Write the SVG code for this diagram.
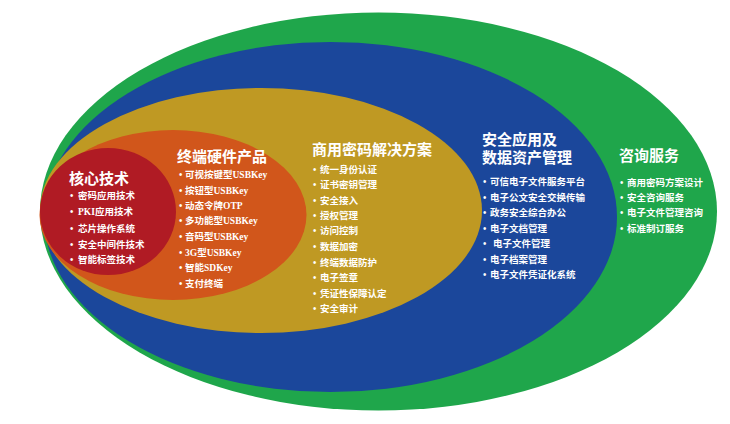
<svg xmlns="http://www.w3.org/2000/svg" width="730" height="424" viewBox="0 0 730 424">
<style>
.t{font-family:"Liberation Serif","Noto Sans CJK SC",serif;font-weight:bold;fill:#fff}
.h{font-size:15px}
.b{font-size:9.5px}
</style>
<rect width="730" height="424" fill="#fff"/>
<g id="consulting">
<ellipse cx="378.5" cy="211.5" rx="338.5" ry="199" fill="#1fa64b"/>
<text class="t h" x="619" y="161">咨询服务</text>
<g class="t b">
<text y="186"><tspan x="620">•</tspan><tspan x="627">商用密码方案设计</tspan></text>
<text y="201"><tspan x="620">•</tspan><tspan x="627">安全咨询服务</tspan></text>
<text y="216"><tspan x="620">•</tspan><tspan x="627">电子文件管理咨询</tspan></text>
<text y="232"><tspan x="620">•</tspan><tspan x="627">标准制订服务</tspan></text>
</g>
</g>
<g id="security-apps">
<ellipse cx="330.5" cy="217" rx="286.5" ry="175" fill="#1b479b"/>
<text class="t h" x="482" y="145">安全应用及</text>
<text class="t h" x="482" y="163">数据资产管理</text>
<g class="t b">
<text y="185"><tspan x="483">•</tspan><tspan x="490">可信电子文件服务平台</tspan></text>
<text y="201"><tspan x="483">•</tspan><tspan x="490">电子公文安全交换传输</tspan></text>
<text y="216"><tspan x="483">•</tspan><tspan x="490">政务安全综合办公</tspan></text>
<text y="232"><tspan x="483">•</tspan><tspan x="490">电子文档管理</tspan></text>
<text y="247"><tspan x="483">•</tspan><tspan x="493">电子文件管理</tspan></text>
<text y="263"><tspan x="483">•</tspan><tspan x="490">电子档案管理</tspan></text>
<text y="278"><tspan x="483">•</tspan><tspan x="490">电子文件凭证化系统</tspan></text>
</g>
</g>
<g id="crypto-solutions">
<ellipse cx="261" cy="210.5" rx="221" ry="122.5" fill="#bf9923"/>
<text class="t h" x="312" y="155">商用密码解决方案</text>
<g class="t b">
<text y="173"><tspan x="313">•</tspan><tspan x="320">统一身份认证</tspan></text>
<text y="188"><tspan x="313">•</tspan><tspan x="320">证书密钥管理</tspan></text>
<text y="204"><tspan x="313">•</tspan><tspan x="320">安全接入</tspan></text>
<text y="219"><tspan x="313">•</tspan><tspan x="320">授权管理</tspan></text>
<text y="234"><tspan x="313">•</tspan><tspan x="320">访问控制</tspan></text>
<text y="250"><tspan x="313">•</tspan><tspan x="320">数据加密</tspan></text>
<text y="266"><tspan x="313">•</tspan><tspan x="320">终端数据防护</tspan></text>
<text y="281"><tspan x="313">•</tspan><tspan x="320">电子签章</tspan></text>
<text y="297"><tspan x="313">•</tspan><tspan x="320">凭证性保障认定</tspan></text>
<text y="312"><tspan x="313">•</tspan><tspan x="320">安全审计</tspan></text>
</g>
</g>
<g id="hardware">
<ellipse cx="173" cy="215" rx="133.5" ry="85" fill="#d1561b"/>
<text class="t h" x="177" y="162">终端硬件产品</text>
<g class="t b">
<text y="178"><tspan x="179">•</tspan><tspan x="185">可视按键型USBKey</tspan></text>
<text y="194"><tspan x="179">•</tspan><tspan x="185">按钮型USBKey</tspan></text>
<text y="209"><tspan x="179">•</tspan><tspan x="185">动态令牌OTP</tspan></text>
<text y="224"><tspan x="179">•</tspan><tspan x="185">多功能型USBKey</tspan></text>
<text y="240"><tspan x="179">•</tspan><tspan x="185">音码型USBKey</tspan></text>
<text y="256"><tspan x="179">•</tspan><tspan x="185">3G型USBKey</tspan></text>
<text y="271"><tspan x="179">•</tspan><tspan x="185">智能SDKey</tspan></text>
<text y="287"><tspan x="179">•</tspan><tspan x="185">支付终端</tspan></text>
</g>
</g>
<g id="core-tech">
<ellipse cx="108" cy="211.5" rx="68" ry="63.5" fill="#b01b24"/>
<text class="t h" x="69" y="184">核心技术</text>
<g class="t b">
<text y="199"><tspan x="70">•</tspan><tspan x="78">密码应用技术</tspan></text>
<text y="215"><tspan x="70">•</tspan><tspan x="78">PKI应用技术</tspan></text>
<text y="232"><tspan x="70">•</tspan><tspan x="78">芯片操作系统</tspan></text>
<text y="248"><tspan x="70">•</tspan><tspan x="78">安全中间件技术</tspan></text>
<text y="263"><tspan x="70">•</tspan><tspan x="78">智能标签技术</tspan></text>
</g>
</g>
</svg>
